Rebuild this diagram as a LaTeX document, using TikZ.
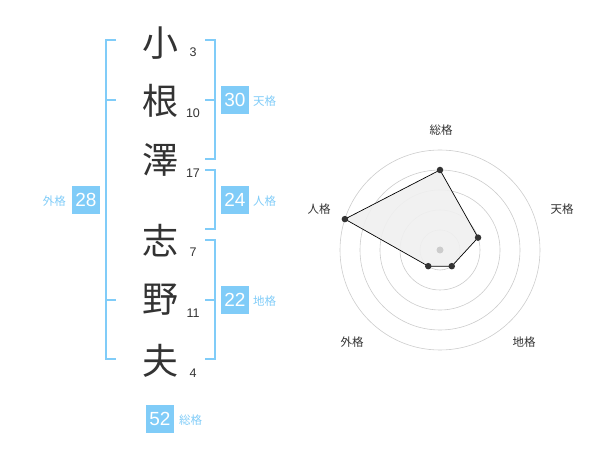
\documentclass[tikz,border=0pt]{standalone}
\usepackage{fontspec}
\usetikzlibrary{calc}
\setmainfont{Noto Sans CJK JP}
\newfontfamily\numfont{Liberation Sans}
\definecolor{kblue}{HTML}{80CCF8}
\definecolor{ktext}{HTML}{333333}
\definecolor{kgrid}{HTML}{CCCCCC}
\begin{document}
\begin{tikzpicture}[x=1pt,y=-1pt,
  kanji/.style={font=\fontsize{36}{36}\selectfont, text=ktext, inner sep=0pt},
  stroke/.style={font=\numfont\fontsize{12.5}{12.5}\selectfont, text=ktext, inner sep=0pt},
  valbox/.style={fill=kblue, text=white, font=\numfont\fontsize{19}{19}\selectfont, minimum width=28pt, minimum height=28pt, inner sep=0pt},
  vallabel/.style={text=kblue, font=\fontsize{11.5}{11.5}\selectfont, inner sep=0pt},
  bracket/.style={draw=kblue, line width=1.8pt},
  grid/.style={draw=kgrid, line width=0.6pt},
  axislabel/.style={text=ktext, font=\fontsize{11.5}{11.5}\selectfont, inner sep=0pt},
  dot/.style={circle, fill=ktext, inner sep=0pt, minimum size=6.5pt}
]
\useasboundingbox (0,0) rectangle (600,470);
% characters
\node[kanji] (k1) at (160,43) {小};
\node[kanji] (k2) at (160,101) {根};
\node[kanji] (k3) at (160,160) {澤};
\node[kanji] (k4) at (160,241) {志};
\node[kanji] (k5) at (160,300) {野};
\node[kanji] (k6) at (160,361) {夫};
\node[stroke] (s1) at (193,52) {3};
\node[stroke] (s2) at (193,113) {10};
\node[stroke] (s3) at (193,173) {17};
\node[stroke] (s4) at (193,252) {7};
\node[stroke] (s5) at (193,313) {11};
\node[stroke] (s6) at (193,373) {4};
% brackets
\draw[bracket] (116,40) -- (106,40) -- (106,359) -- (116,359);
\draw[bracket] (106,100) -- (116,100);
\draw[bracket] (106,300) -- (116,300);
\draw[bracket] (205,40) -- (215,40) -- (215,159) -- (205,159);
\draw[bracket] (205,100) -- (215,100);
\draw[bracket] (205,170) -- (215,170) -- (215,229) -- (205,229);
\draw[bracket] (205,240) -- (215,240) -- (215,359) -- (205,359);
\draw[bracket] (205,300) -- (215,300);
% value boxes
\node[valbox] (tenv) at (235,100) {30};
\node[vallabel, anchor=west] (tenl) at (253,101) {天格};
\node[valbox] (jinv) at (235,200) {24};
\node[vallabel, anchor=west] (jinl) at (253,201) {人格};
\node[valbox] (chiv) at (235,300) {22};
\node[vallabel, anchor=west] (chil) at (253,301) {地格};
\node[valbox] (gaiv) at (86,200) {28};
\node[vallabel, anchor=east] (gail) at (66,201) {外格};
\node[valbox] (souv) at (160,419) {52};
\node[vallabel, anchor=west] (soul) at (179,420) {総格};
% radar
\coordinate (c) at (440,250);
\foreach \r in {20,40,60,80,100} \draw[grid] (c) circle[radius=\r];
\coordinate (p1) at ($(c)+(-90:80)$);
\coordinate (p2) at ($(c)+(-18:40)$);
\coordinate (p3) at ($(c)+(54:20)$);
\coordinate (p4) at ($(c)+(126:20)$);
\coordinate (p5) at ($(c)+(198:100)$);
\fill[gray!12, fill opacity=0.9] (p1) -- (p2) -- (p3) -- (p4) -- (p5) -- cycle;
\draw[black, line width=0.7pt] (p1) -- (p2) -- (p3) -- (p4) -- (p5) -- cycle;
\fill[kgrid] (c) circle[radius=3.5];
\foreach \p in {p1,p2,p3,p4,p5} \node[dot] at (\p) {};
\node[axislabel] (a1) at (441,130) {総格};
\node[axislabel] (a2) at (562,209) {天格};
\node[axislabel] (a3) at (524,342) {地格};
\node[axislabel] (a4) at (352,342) {外格};
\node[axislabel] (a5) at (319,209) {人格};
\end{tikzpicture}
\end{document}
